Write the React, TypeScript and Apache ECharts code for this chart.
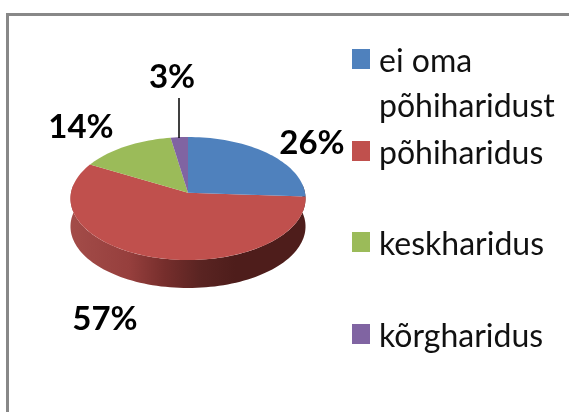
import React, { useEffect, useRef } from "react";
import * as echarts from "echarts";

const categories = ["ei oma\npõhiharidust", "põhiharidus", "keskharidus", "kõrgharidus"];
const values = [26, 57, 14.4, 2.6];
const colors = ["#4F81BD", "#C0504D", "#9BBB59", "#8064A2"];
const labelSpots = [
  [312, 141],
  [105, 317],
  [81, 125],
  [172, 75],
];
const legendTops = [-2, 135, 226, 318];

const CX = 188, CY = 192.7, RX = 117, RY = 60.95, K = 0.0943, DEPTH = 28, BOTTOM_SCALE = 1;
const total = values.reduce((a, b) => a + b, 0);
const starts = values.map((_, i) => values.slice(0, i).reduce((a, b) => a + b, 0));

function project(deg: number, drop = 0, scale = 1): [number, number] {
  const t = (deg * Math.PI) / 180;
  const u = Math.sin(t);
  const v = -Math.cos(t);
  const w = 1 - K * v;
  return [CX + (scale * RX * u) / w, CY + (scale * RY * v) / w + drop];
}

function arcPoints(a: number, b: number, drop = 0, scale = 1) {
  const pts: [number, number][] = [];
  const n = Math.max(2, Math.ceil(Math.abs(b - a) / 2));
  for (let i = 0; i <= n; i++) pts.push(project(a + ((b - a) * i) / n, drop, scale));
  return pts;
}

function makeRender(idx: number) {
  return (_params: any, api: any) => {
    const v = api.value(0);
    const a = (starts[idx] / total) * 360;
    const b = a + (v / total) * 360;
    const children: any[] = [];
    if (idx === 1) {
      const from = 82;
      const wb = Math.min(b, 278);
      const upper = arcPoints(from, wb);
      const lower = arcPoints(wb, from, DEPTH, BOTTOM_SCALE);
      children.push({
        type: "polygon",
        shape: { points: [...upper, ...lower] },
        style: {
          fill: new echarts.graphic.LinearGradient(0, 0, 1, 0, [
            { offset: 0, color: "#A34C49" },
            { offset: 0.25, color: "#963F3D" },
            { offset: 0.4, color: "#762E2C" },
            { offset: 0.55, color: "#5A2422" },
            { offset: 0.7, color: "#4E1D1B" },
            { offset: 1, color: "#4E1D1B" },
          ]),
        },
      });
    }
    children.push({
      type: "polygon",
      shape: { points: [[CX, CY], ...arcPoints(a, b)] },
      style: { fill: colors[idx] },
    });
    if (idx === 3) {
      children.push({
        type: "line",
        shape: { x1: 179, y1: 98, x2: 179, y2: 138 },
        style: { stroke: "#000", lineWidth: 1.5 },
      });
    }
    children.push({
      type: "text",
      style: {
        x: labelSpots[idx][0],
        y: labelSpots[idx][1],
        text: Math.round((v / total) * 100) + "%",
        fill: "#000",
        font: "bold 33px Lato",
        align: "center",
        verticalAlign: "middle",
      },
    });
    return { type: "group", children };
  };
}

export default function App() {
  const ref = useRef<HTMLDivElement>(null);
  useEffect(() => {
    const chart = echarts.init(ref.current!, undefined, { renderer: "svg" });
    chart.setOption({
      animation: false,
      backgroundColor: "#fff",
      legend: categories.map((name, i) => ({
        show: true,
        data: [{ name, icon: "rect", itemStyle: { color: colors[i] } }],
        left: 352,
        top: legendTops[i],
        itemWidth: 18,
        itemHeight: 20,
        itemGap: 0,
        padding: 0,
        selectedMode: false,
        formatter: (n: string) => {
          const lines = n.split("\n").map((l) => `{a|${l}}`);
          return (lines.length > 1 ? ["{a| }", ...lines] : lines).join("\n");
        },
        textStyle: {
          rich: {
            a: {
              color: "#111",
              fontFamily: "Lato",
              fontSize: 32,
              lineHeight: 45,
              padding: [0, 0, 0, 4],
            },
          },
        },
      })),
      graphic: [
        { type: "rect", shape: { x: 6, y: 13, width: 563, height: 3 }, style: { fill: "#888" } },
        { type: "rect", shape: { x: 6, y: 13, width: 3, height: 399 }, style: { fill: "#888" } },
      ],
      series: categories.map((name, i) => ({
        type: "custom",
        name,
        coordinateSystem: "none",
        renderItem: makeRender(i),
        data: [[values[i]]],
        z: i === 1 ? 2 : 3,
        silent: true,
      })),
    });
    return () => chart.dispose();
  }, []);
  return (
    <div
      ref={ref}
      style={{ position: "fixed", left: 0, top: 0, width: 569, height: 412, filter: "blur(0.5px)" }}
    />
  );
}
